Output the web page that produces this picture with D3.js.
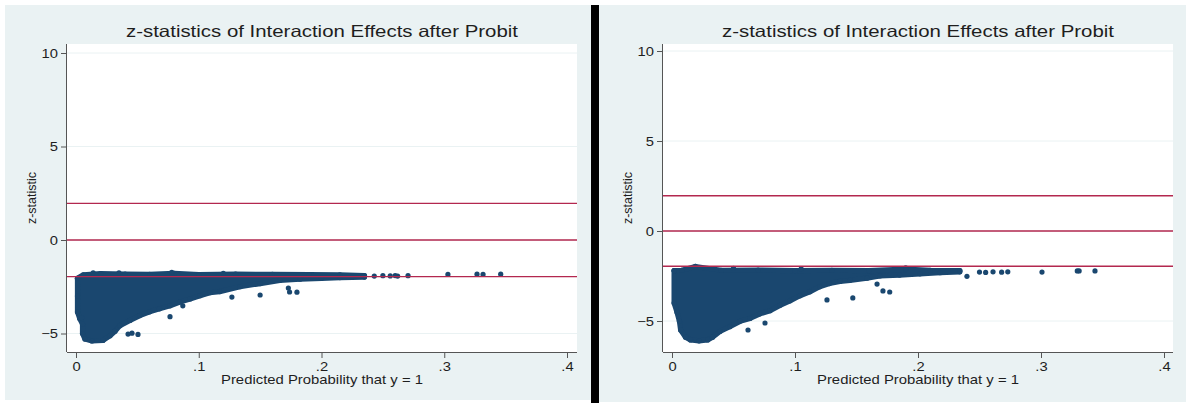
<!DOCTYPE html>
<html>
<head>
<meta charset="utf-8">
<script src="https://cdn.jsdelivr.net/npm/d3@7"></script>
<style>
    html, body { margin: 0; padding: 0; background: #fff; }
    svg { display: block; font-family: 'Liberation Sans', Arial, sans-serif; }
</style>
</head>
<body>
<div id="chart"></div>
<script>
// axis settings shared by both panels
const xTicks = [0, 0.1, 0.2, 0.3, 0.4];
const xTickLabels = ['0', '.1', '.2', '.3', '.4'];
const yTicks = [-5, 0, 5, 10];
const refLines = [1.96, 0, -1.96];

const titleText = 'z-statistics of Interaction Effects after Probit';
const xTitleText = 'Predicted Probability that y = 1';
const yTitleText = 'z-statistic';

// left panel: outline of the dense cloud (lower edge, then upper edge) and loose points
const leftLower = [
    [0.0012, -2.05], [0.0012, -3.0], [0.0012, -3.85], [0.003, -4.2], [0.0053, -4.5],
    [0.0053, -5.0], [0.0073, -5.3], [0.013, -5.4], [0.022, -5.37], [0.0277, -5.12],
    [0.0318, -4.88], [0.0358, -4.58], [0.044, -4.3], [0.052, -4.04], [0.060, -3.84],
    [0.068, -3.68], [0.0766, -3.52], [0.0847, -3.32], [0.0929, -3.15], [0.101, -2.98],
    [0.109, -2.82], [0.117, -2.76], [0.1336, -2.5], [0.15, -2.33], [0.166, -2.16],
    [0.1825, -2.1], [0.2, -2.05], [0.215, -2.01], [0.235, -1.98]
];
const leftUpper = [
    [0.235, -1.9], [0.215, -1.87], [0.19, -1.85], [0.16, -1.84], [0.13, -1.83],
    [0.1, -1.85], [0.08, -1.78], [0.06, -1.84], [0.04, -1.82], [0.02, -1.8],
    [0.006, -1.86], [0.0012, -2.05]
];
const leftPoints = [
    [0.0046, -4.15], [0.0424, -5.03], [0.0456, -4.98], [0.0505, -5.05], [0.0766, -4.1],
    [0.087, -3.52], [0.127, -3.05], [0.15, -2.94], [0.173, -2.57], [0.174, -2.78],
    [0.18, -2.79], [0.014, -1.75], [0.035, -1.76], [0.078, -1.73], [0.12, -1.78],
    [0.243, -1.93], [0.25, -1.91], [0.256, -1.92], [0.26, -1.9],
    [0.262, -1.93], [0.2705, -1.91], [0.303, -1.84], [0.3267, -1.83], [0.3316, -1.84],
    [0.346, -1.83]
];

// right panel
const rightLower = [
    [0.0017, -2.2], [0.0017, -4.0], [0.004, -4.5], [0.006, -5.0], [0.007, -5.5],
    [0.011, -5.9], [0.015, -6.05], [0.022, -6.1], [0.029, -6.05], [0.033, -5.9],
    [0.039, -5.58], [0.047, -5.32], [0.0553, -5.02], [0.0634, -4.86], [0.0715, -4.6],
    [0.0797, -4.43], [0.0878, -4.13], [0.0959, -3.88], [0.104, -3.6], [0.112, -3.38],
    [0.12, -3.1], [0.128, -2.92], [0.1366, -2.8], [0.1447, -2.74], [0.1585, -2.62],
    [0.169, -2.5], [0.185, -2.45], [0.2016, -2.38], [0.218, -2.32], [0.234, -2.27]
];
const rightUpper = [
    [0.234, -2.2], [0.21, -2.19], [0.19, -2.12], [0.16, -2.2], [0.13, -2.18],
    [0.1, -2.2], [0.07, -2.17], [0.04, -2.18], [0.019, -1.97], [0.008, -2.18],
    [0.0017, -2.2]
];
const rightPoints = [
    [0.0618, -5.5], [0.0756, -5.11], [0.126, -3.83], [0.147, -3.72], [0.1667, -2.95],
    [0.1715, -3.33], [0.177, -3.39], [0.05, -2.08], [0.105, -2.1], [0.19, -2.05],
    [0.2398, -2.52], [0.25, -2.28], [0.255, -2.3],
    [0.261, -2.27], [0.268, -2.29], [0.273, -2.27], [0.3008, -2.28], [0.3295, -2.22],
    [0.331, -2.22], [0.3439, -2.22]
];

const width = 1186;
const height = 403;
const markerColor = '#1a476f';
const lineColor = '#b3284f';
const regionColor = '#eaf2f3';
const textColor = '#1e1e1e';
const markerRadius = 2.6;
const textStretch = 1.18;   // the original text is a bit wider than Arial

const svg = d3.select('#chart').append('svg')
    .attr('width', width)
    .attr('height', height)
    .attr('viewBox', [0, 0, width, height]);

svg.append('rect').attr('width', width).attr('height', height).attr('fill', '#fff');

// divider between the two graphs
svg.append('rect')
    .attr('x', 591).attr('y', 5)
    .attr('width', 8).attr('height', height - 5)
    .attr('fill', '#000');

function stretch(sel) {
    sel.each(function () {
        const w = this.getComputedTextLength();
        d3.select(this)
            .attr('textLength', w * textStretch)
            .attr('lengthAdjust', 'spacingAndGlyphs');
    });
}

function drawPanel(cfg) {
    const g = svg.append('g');

    g.append('rect')
        .attr('x', cfg.region[0]).attr('y', cfg.region[1])
        .attr('width', cfg.region[2] - cfg.region[0])
        .attr('height', cfg.region[3] - cfg.region[1])
        .attr('fill', regionColor);

    const [left, top, right, bottom] = cfg.plot;
    g.append('rect')
        .attr('x', left).attr('y', top)
        .attr('width', right - left).attr('height', bottom - top)
        .attr('fill', '#fff');

    const x = d3.scaleLinear().domain([0, 0.4]).range(cfg.xRange);
    const y = d3.scaleLinear().domain([0, 10]).range(cfg.yRange);

    // faint grid lines at the y ticks
    g.append('g')
        .selectAll('line')
        .data(yTicks)
        .join('line')
        .attr('x1', left).attr('x2', right)
        .attr('y1', d => y(d)).attr('y2', d => y(d))
        .attr('stroke', regionColor)
        .attr('stroke-width', 1);

    const clipId = 'clip-' + cfg.id;
    g.append('clipPath').attr('id', clipId)
        .append('rect')
        .attr('x', left).attr('y', top)
        .attr('width', right - left).attr('height', bottom - top);

    const marks = g.append('g').attr('clip-path', `url(#${clipId})`);

    // the dense part of the cloud, outlined by its edge points
    const outline = cfg.lower.concat(cfg.upper);
    const line = d3.line().x(d => x(d[0])).y(d => y(d[1]));
    marks.append('path')
        .attr('d', line(outline) + 'Z')
        .attr('fill', markerColor)
        .attr('stroke', markerColor)
        .attr('stroke-width', markerRadius * 2)
        .attr('stroke-linejoin', 'round');

    marks.append('g')
        .selectAll('circle')
        .data(outline.concat(cfg.points))
        .join('circle')
        .attr('cx', d => x(d[0]))
        .attr('cy', d => y(d[1]))
        .attr('r', markerRadius)
        .attr('fill', markerColor);

    marks.append('g')
        .selectAll('line')
        .data(refLines)
        .join('line')
        .attr('x1', left).attr('x2', right)
        .attr('y1', d => y(d)).attr('y2', d => y(d))
        .attr('stroke', lineColor)
        .attr('stroke-width', 1.4);

    // axes
    g.append('g')
        .attr('transform', `translate(0,${bottom})`)
        .call(d3.axisBottom(x)
            .tickValues(xTicks)
            .tickFormat((d, i) => xTickLabels[i])
            .tickSize(6)
            .tickSizeOuter(0)
            .tickPadding(4))
        .call(a => {
            a.select('.domain').attr('d', `M${left},0.5H${right}`).attr('stroke', '#555');
            a.selectAll('.tick line').attr('stroke', '#555');
            a.selectAll('.tick text')
                .attr('fill', textColor)
                .attr('font-size', '12.5px')
                .attr('font-family', null)
                .call(stretch);
        });

    g.append('g')
        .attr('transform', `translate(${left},0)`)
        .call(d3.axisLeft(y)
            .tickValues(yTicks)
            .tickFormat(d3.format('d'))
            .tickSize(6)
            .tickSizeOuter(0)
            .tickPadding(3))
        .call(a => {
            a.select('.domain').attr('d', `M-0.5,${top}V${bottom}`).attr('stroke', '#555');
            a.selectAll('.tick line').attr('stroke', '#555');
            a.selectAll('.tick text')
                .attr('fill', textColor)
                .attr('font-size', '12.5px')
                .attr('font-family', null)
                .call(stretch);
        });

    const cx = (left + right) / 2;
    g.append('text')
        .attr('x', cx).attr('y', 37)
        .attr('text-anchor', 'middle')
        .attr('font-size', '16.5px')
        .attr('fill', textColor)
        .text(titleText)
        .attr('textLength', 392)
        .attr('lengthAdjust', 'spacingAndGlyphs');

    g.append('text')
        .attr('x', cx).attr('y', 384)
        .attr('text-anchor', 'middle')
        .attr('font-size', '13.5px')
        .attr('fill', textColor)
        .text(xTitleText)
        .attr('textLength', 202)
        .attr('lengthAdjust', 'spacingAndGlyphs');

    g.append('text')
        .attr('transform', `translate(${cfg.yTitleX},${(top + bottom) / 2}) rotate(-90)`)
        .attr('text-anchor', 'middle')
        .attr('font-size', '12.5px')
        .attr('fill', textColor)
        .text(yTitleText);
}

drawPanel({
    id: 'left',
    region: [5, 5, 591, 400],
    plot: [67, 44, 577, 352],
    xRange: [76, 567],
    yRange: [240, 53],
    yTitleX: 36,
    lower: leftLower,
    upper: leftUpper,
    points: leftPoints
});

drawPanel({
    id: 'right',
    region: [599, 5, 1186, 402],
    plot: [663, 44, 1173, 352],
    xRange: [672, 1164],
    yRange: [231, 51],
    yTitleX: 632,
    lower: rightLower,
    upper: rightUpper,
    points: rightPoints
});
</script>
</body>
</html>
